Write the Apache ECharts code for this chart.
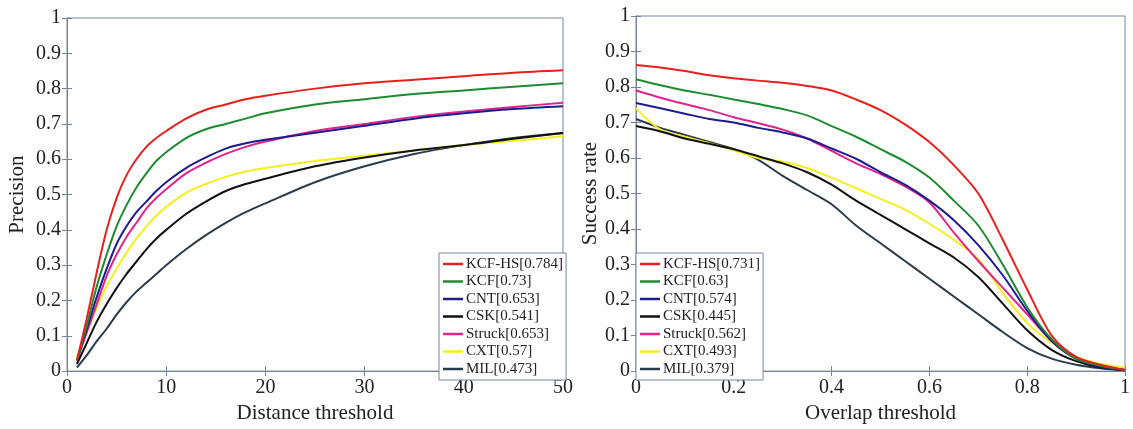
<!DOCTYPE html>
<html>
<head>
    <meta charset="utf-8">
    <title>Precision / Success plots</title>
    <script type="text/javascript" src="https://cdn.jsdelivr.net/npm/echarts@6/dist/echarts.min.js"></script>
    <style>
        html, body { margin: 0; padding: 0; background: #fff; }
    </style>
</head>
<body>
    <div id="main" style="width: 1133px;height:429px;"></div>
    <script type="text/javascript">
    // distance thresholds (left plot)
    var distX = [1, 2, 3, 4, 5, 6, 7, 8, 9, 10, 12, 14, 16, 18, 20, 25, 30, 35, 40, 45, 50];
    var precKCFHS  = [0.03, 0.15, 0.28, 0.40, 0.49, 0.555, 0.60, 0.635, 0.66, 0.68, 0.715, 0.74, 0.755, 0.77, 0.78, 0.80, 0.815, 0.825, 0.835, 0.845, 0.852];
    var precKCF    = [0.03, 0.13, 0.24, 0.33, 0.41, 0.47, 0.52, 0.56, 0.595, 0.62, 0.66, 0.685, 0.70, 0.715, 0.73, 0.755, 0.77, 0.785, 0.795, 0.805, 0.815];
    var precCNT    = [0.03, 0.12, 0.21, 0.29, 0.36, 0.41, 0.45, 0.48, 0.51, 0.535, 0.575, 0.605, 0.63, 0.645, 0.655, 0.675, 0.695, 0.715, 0.73, 0.742, 0.75];
    var precCSK    = [0.02, 0.08, 0.14, 0.19, 0.235, 0.275, 0.31, 0.345, 0.375, 0.40, 0.445, 0.48, 0.51, 0.53, 0.545, 0.58, 0.605, 0.625, 0.64, 0.658, 0.674];
    var precStruck = [0.03, 0.11, 0.19, 0.27, 0.33, 0.38, 0.42, 0.46, 0.49, 0.515, 0.56, 0.59, 0.615, 0.635, 0.65, 0.68, 0.70, 0.72, 0.735, 0.748, 0.76];
    var precCXT    = [0.04, 0.11, 0.18, 0.24, 0.29, 0.335, 0.375, 0.41, 0.44, 0.465, 0.505, 0.53, 0.55, 0.565, 0.575, 0.595, 0.61, 0.625, 0.64, 0.652, 0.665];
    var precMIL    = [0.01, 0.045, 0.085, 0.12, 0.16, 0.195, 0.225, 0.25, 0.275, 0.30, 0.345, 0.385, 0.42, 0.45, 0.475, 0.535, 0.58, 0.615, 0.64, 0.66, 0.674];

    // overlap thresholds (right plot)
    var overlapX = [0, 0.05, 0.1, 0.15, 0.2, 0.25, 0.3, 0.35, 0.4, 0.45, 0.5, 0.55, 0.6, 0.65, 0.7, 0.75, 0.8, 0.85, 0.9, 0.95, 1];
    var succKCFHS  = [0.862, 0.855, 0.845, 0.833, 0.825, 0.818, 0.812, 0.803, 0.79, 0.765, 0.735, 0.695, 0.645, 0.58, 0.50, 0.37, 0.23, 0.10, 0.04, 0.018, 0.003];
    var succKCF    = [0.822, 0.805, 0.79, 0.778, 0.765, 0.752, 0.738, 0.72, 0.69, 0.66, 0.625, 0.59, 0.545, 0.48, 0.41, 0.30, 0.18, 0.09, 0.035, 0.015, 0.003];
    var succCNT    = [0.755, 0.74, 0.725, 0.71, 0.70, 0.685, 0.672, 0.655, 0.627, 0.598, 0.56, 0.525, 0.48, 0.425, 0.355, 0.27, 0.17, 0.085, 0.035, 0.012, 0.003];
    var succCSK    = [0.69, 0.675, 0.655, 0.64, 0.625, 0.605, 0.585, 0.56, 0.525, 0.48, 0.44, 0.40, 0.36, 0.32, 0.265, 0.19, 0.115, 0.06, 0.028, 0.01, 0.003];
    var succStruck = [0.79, 0.77, 0.752, 0.735, 0.715, 0.698, 0.68, 0.655, 0.62, 0.585, 0.555, 0.52, 0.475, 0.39, 0.31, 0.235, 0.16, 0.085, 0.035, 0.015, 0.003];
    var succCXT    = [0.74, 0.68, 0.66, 0.642, 0.622, 0.60, 0.59, 0.572, 0.545, 0.515, 0.485, 0.455, 0.415, 0.37, 0.315, 0.22, 0.135, 0.08, 0.04, 0.02, 0.01];
    var succMIL    = [0.71, 0.685, 0.665, 0.645, 0.625, 0.595, 0.55, 0.51, 0.47, 0.41, 0.36, 0.31, 0.26, 0.21, 0.16, 0.11, 0.065, 0.035, 0.018, 0.008, 0.002];

    var trackers = ['KCF-HS', 'KCF', 'CNT', 'CSK', 'Struck', 'CXT', 'MIL'];
    var precScores = ['0.784', '0.73', '0.653', '0.541', '0.653', '0.57', '0.473'];
    var succScores = ['0.731', '0.63', '0.574', '0.445', '0.562', '0.493', '0.379'];
    var colors = ['#e6201c', '#1e8b30', '#1c1c8e', '#111111', '#e0248c', '#f5ef1c', '#2a3c4c'];

    var precData = [precKCFHS, precKCF, precCNT, precCSK, precStruck, precCXT, precMIL];
    var succData = [succKCFHS, succKCF, succCNT, succCSK, succStruck, succCXT, succMIL];

    var frameColor = '#7485a0';
    var font = 'Liberation Serif';

    var myChart = echarts.init(document.getElementById('main'));

    function pairs(xs, ys) {
        return xs.map(function (x, i) { return [x, ys[i]]; });
    }

    var series = [];
    var precNames = [], succNames = [];
    for (var i = 0; i < trackers.length; i++) {
        var pn = trackers[i] + '[' + precScores[i] + ']';
        var sn = trackers[i] + '[' + succScores[i] + ']';
        precNames.push(pn);
        succNames.push(sn);
        series.push({
            name: pn, type: 'line', xAxisIndex: 0, yAxisIndex: 0,
            data: pairs(distX, precData[i]), smooth: 0.3, showSymbol: false,
            lineStyle: { width: 2, color: colors[i] }, itemStyle: { color: colors[i] },
            animation: false, z: 10 - i
        });
        series.push({
            name: sn, type: 'line', xAxisIndex: 2, yAxisIndex: 2,
            data: pairs(overlapX, succData[i]), smooth: 0.3, showSymbol: false,
            lineStyle: { width: 2, color: colors[i] }, itemStyle: { color: colors[i] },
            animation: false, z: 10 - i
        });
    }

    var nameStyle = { color: '#222', fontFamily: font, fontSize: 21 };

    function frameAxis(opts) {
        var a = {
            type: 'value',
            axisLine: { show: true, lineStyle: { color: frameColor, width: 1 } },
            axisTick: { show: true, inside: true, length: 5, lineStyle: { color: frameColor } },
            splitLine: { show: false },
            axisLabel: { show: false }
        };
        for (var k in opts) a[k] = opts[k];
        return a;
    }

    function legendFor(names, left) {
        return {
            data: names.map(function (n) { return { name: n, icon: 'rect' }; }),
            orient: 'vertical',
            left: left, top: 253,
            itemWidth: 20, itemHeight: 2.5,
            itemGap: 2.5,
            padding: [3.5, 3, 3.5, 4],
            backgroundColor: '#fff',
            borderColor: frameColor, borderWidth: 1,
            selectedMode: false,
            textStyle: { fontFamily: font, fontSize: 15, lineHeight: 15, color: '#222', padding: [0, 0, 0, -2] }
        };
    }

    option = {
        backgroundColor: '#fff',
        animation: false,
        legend: [legendFor(precNames, 439), legendFor(succNames, 636)],
        grid: [
            { left: 67, top: 18, width: 496, height: 362, show: true, borderColor: frameColor, borderWidth: 1 },
            { left: 636, top: 16, width: 494, height: 364, show: true, borderColor: frameColor, borderWidth: 1 }
        ],
        xAxis: [
            frameAxis({ gridIndex: 0, position: 'bottom', min: 0, max: 50, interval: 10,
                axisLabel: { show: true, margin: 7, fontFamily: font, fontSize: 20, color: '#222' },
                name: 'Distance threshold', nameLocation: 'middle', nameGap: 27, nameTextStyle: nameStyle }),
            frameAxis({ gridIndex: 0, position: 'top', min: 0, max: 50, interval: 10 }),
            frameAxis({ gridIndex: 1, position: 'bottom', min: 0, max: 1, interval: 0.2,
                axisLabel: { show: true, margin: 7, fontFamily: font, fontSize: 20, color: '#222' },
                name: 'Overlap threshold', nameLocation: 'middle', nameGap: 27, nameTextStyle: nameStyle }),
            frameAxis({ gridIndex: 1, position: 'top', min: 0, max: 1, interval: 0.2 })
        ],
        yAxis: [
            frameAxis({ gridIndex: 0, position: 'left', min: 0, max: 1, interval: 0.1,
                axisLabel: { show: true, margin: 6, fontFamily: font, fontSize: 20, color: '#222' },
                name: 'Precision', nameLocation: 'middle', nameGap: 39, nameTextStyle: nameStyle }),
            frameAxis({ gridIndex: 0, position: 'right', min: 0, max: 1, interval: 0.1 }),
            frameAxis({ gridIndex: 1, position: 'left', min: 0, max: 1, interval: 0.1,
                axisLabel: { show: true, margin: 6, fontFamily: font, fontSize: 20, color: '#222' },
                name: 'Success rate', nameLocation: 'middle', nameGap: 33, nameTextStyle: nameStyle }),
            frameAxis({ gridIndex: 1, position: 'right', min: 0, max: 1, interval: 0.1 })
        ],
        series: series
    };

    myChart.setOption(option);
    </script>
</body>
</html>
